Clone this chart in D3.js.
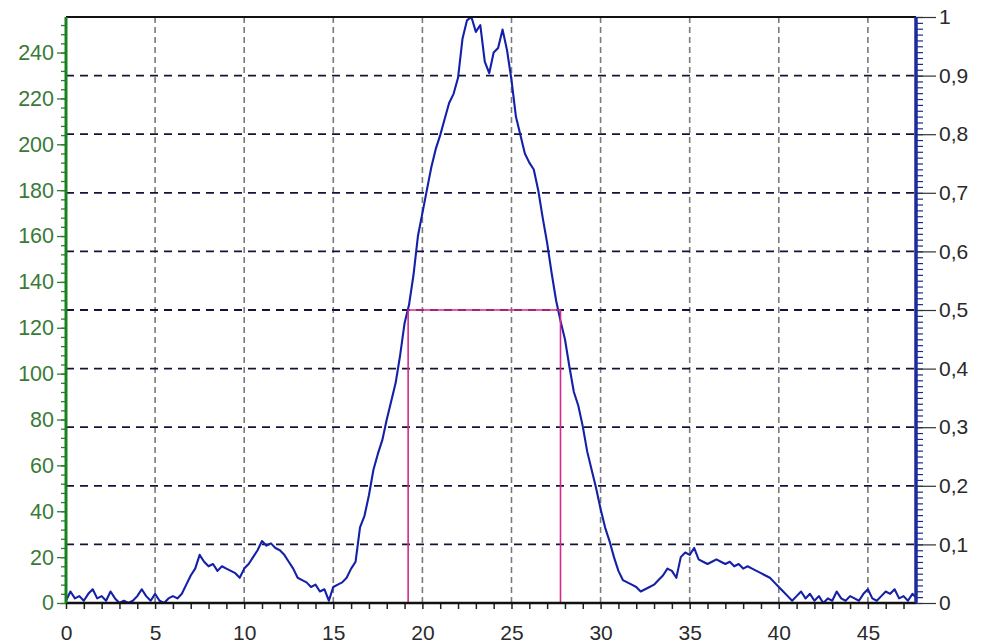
<!DOCTYPE html>
<html>
<head>
<meta charset="utf-8">
<script src="https://cdn.jsdelivr.net/npm/d3@7"></script>
<style>
  html, body { margin: 0; padding: 0; background: #fff; }
  #chart { width: 992px; height: 644px; }
  text { font-family: "Liberation Sans", Arial, sans-serif; }
</style>
</head>
<body>
<div id="chart"></div>
<script>
// intensity profile, one sample every 0.25 on the x axis
const sampleStep = 0.25;
const intensity = [
  1, 5, 2, 3, 1, 4, 6, 2, 3, 1, 5, 2, 0, 1, 0, 1,
  3, 6, 3, 1, 4, 1, 0, 2, 3, 2, 4, 8, 12, 15, 21, 18,
  16, 17, 14, 16, 15, 14, 13, 11, 15, 17, 20, 23, 27, 25, 26, 24,
  23, 21, 18, 15, 11, 10, 9, 7, 8, 5, 6, 1, 7, 8, 9, 11,
  15, 18, 33, 38, 47, 58, 65, 71, 80, 88, 96, 108, 122, 130, 143, 160,
  170, 180, 190, 198, 204, 211, 218, 222, 229, 246, 254, 256, 249, 252, 236, 231,
  240, 242, 250, 241, 228, 212, 204, 196, 192, 189, 180, 168, 157, 144, 132, 123,
  115, 103, 92, 86, 77, 66, 58, 50, 41, 33, 27, 20, 14, 10, 9, 8,
  7, 5, 6, 7, 8, 10, 12, 15, 14, 11, 20, 22, 21, 24, 19, 18,
  17, 18, 19, 18, 17, 18, 16, 17, 15, 16, 15, 14, 13, 12, 11, 9,
  7, 5, 3, 1, 3, 5, 2, 4, 1, 3, 0, 2, 1, 5, 2, 1,
  3, 2, 1, 4, 6, 2, 1, 3, 5, 4, 6, 2, 3, 1, 4, 2
];

// half-maximum marker (x from / to, level on the right scale)
const fwhmFrom = 19.2;
const fwhmTo = 27.75;
const fwhmLevel = 0.5;

const xTickLabels = [0, 5, 10, 15, 20, 25, 30, 35, 40, 45];
const leftTickLabels = [0, 20, 40, 60, 80, 100, 120, 140, 160, 180, 200, 220, 240];
const rightTickValues = [0, 0.1, 0.2, 0.3, 0.4, 0.5, 0.6, 0.7, 0.8, 0.9, 1];
const rightTickLabels = ["0", "0,1", "0,2", "0,3", "0,4", "0,5", "0,6", "0,7", "0,8", "0,9", "1"];

const xMax = 47.7;
const leftMax = 255.5;

class ProfileChart {
  constructor(id, values) {
    this.div = id;
    this.data = values.map((v, i) => ({ x: i * sampleStep, y: v }));
  }

  add_svg() {
    const div = d3.select(`#${this.div}`);
    div.selectAll("*").remove();
    this.width = 992;
    this.height = 644;
    this.margin = { left: 66, right: 76, top: 17, bottom: 41 };
    this.innerW = this.width - this.margin.left - this.margin.right;
    this.innerH = this.height - this.margin.top - this.margin.bottom;
    this.svg = div.append("svg")
      .attr("width", this.width)
      .attr("height", this.height);
    this.ChartArea = this.svg.append("g")
      .attr("transform", `translate(${this.margin.left},${this.margin.top})`);
    this.grid = this.ChartArea.append("g");
    this.draw_area = this.ChartArea.append("g");
    this.frame = this.ChartArea.append("g");
  }

  add_scale() {
    this.x = d3.scaleLinear().domain([0, xMax]).range([0, this.innerW]);
    this.yL = d3.scaleLinear().domain([0, leftMax]).range([this.innerH, 0]).clamp(true);
    this.yR = d3.scaleLinear().domain([0, 1]).range([this.innerH, 0]);
  }

  add_grid() {
    this.grid.selectAll(".vgrid").data(xTickLabels.filter(d => d > 0)).join("line")
      .attr("class", "vgrid")
      .attr("x1", d => this.x(d)).attr("x2", d => this.x(d))
      .attr("y1", 0).attr("y2", this.innerH)
      .attr("stroke", "#7a7a7a")
      .attr("stroke-width", 1.6)
      .attr("stroke-dasharray", "6,4");

    this.grid.selectAll(".hgrid").data(rightTickValues.filter(d => d > 0 && d < 1)).join("line")
      .attr("class", "hgrid")
      .attr("x1", 0).attr("x2", this.innerW)
      .attr("y1", d => this.yR(d)).attr("y2", d => this.yR(d))
      .attr("stroke", "#141438")
      .attr("stroke-width", 1.8)
      .attr("stroke-dasharray", "8,6");
  }

  add_axis() {
    const bottom = this.frame.append("g").attr("transform", `translate(0,${this.innerH})`);
    bottom.append("g")
      .call(d3.axisBottom(this.x).tickValues(d3.range(0, 48, 1)).tickSize(6).tickFormat(""))
      .call(g => g.select(".domain").remove())
      .call(g => g.selectAll("line").attr("stroke", "#222").attr("stroke-width", 1.5));
    bottom.append("g")
      .call(d3.axisBottom(this.x).tickValues(xTickLabels).tickSize(0).tickPadding(22))
      .call(g => g.select(".domain").remove())
      .call(g => g.selectAll("text").attr("font-size", 21).attr("fill", "#2a2a2a"));

    const left = this.frame.append("g");
    left.append("g")
      .call(d3.axisLeft(this.yL).tickValues(d3.range(0, 256, 4)).tickSize(5).tickFormat(""))
      .call(g => g.select(".domain").remove())
      .call(g => g.selectAll("line").attr("stroke", "#2d7d2d").attr("stroke-width", 1.3));
    left.append("g")
      .call(d3.axisLeft(this.yL).tickValues(leftTickLabels).tickSize(9).tickPadding(3))
      .call(g => g.select(".domain").remove())
      .call(g => g.selectAll("line").attr("stroke", "#2d7d2d").attr("stroke-width", 1.3))
      .call(g => g.selectAll("text").attr("font-size", 21.5).attr("fill", "#3a7a38"));

    const right = this.frame.append("g").attr("transform", `translate(${this.innerW},0)`);
    right.append("g")
      .call(d3.axisRight(this.yR).tickValues(d3.range(0, 101, 1).map(d => d / 100)).tickSize(7).tickFormat(""))
      .call(g => g.select(".domain").remove())
      .call(g => g.selectAll("line").attr("stroke", "#1c2a8c").attr("stroke-width", 1.2));
    right.append("g")
      .call(d3.axisRight(this.yR).tickValues(rightTickValues).tickSize(20).tickPadding(3)
        .tickFormat((d, i) => rightTickLabels[i]))
      .call(g => g.select(".domain").remove())
      .call(g => g.selectAll("line").attr("stroke", "#333").attr("stroke-width", 1.2))
      .call(g => g.selectAll("text").attr("font-size", 21).attr("fill", "#2a2a2a"));

    // frame lines: top black, left green, right blue, bottom black
    this.frame.append("line")
      .attr("x1", 0).attr("x2", this.innerW).attr("y1", 0).attr("y2", 0)
      .attr("stroke", "#111").attr("stroke-width", 2);
    this.frame.append("line")
      .attr("x1", 0).attr("x2", this.innerW).attr("y1", this.innerH).attr("y2", this.innerH)
      .attr("stroke", "#111").attr("stroke-width", 2.5);
    this.frame.append("line")
      .attr("x1", 0).attr("x2", 0).attr("y1", 0).attr("y2", this.innerH)
      .attr("stroke", "#17801f").attr("stroke-width", 3);
    this.frame.append("line")
      .attr("x1", this.innerW).attr("x2", this.innerW).attr("y1", 0).attr("y2", this.innerH)
      .attr("stroke", "#1c2a9c").attr("stroke-width", 3.5);
  }

  draw_chart() {
    const line = d3.line()
      .x(d => this.x(d.x))
      .y(d => this.yL(d.y));
    this.draw_area.append("path")
      .datum(this.data)
      .attr("fill", "none")
      .attr("stroke", "#1420a8")
      .attr("stroke-width", 2.1)
      .attr("stroke-linejoin", "round")
      .attr("d", line);

    const fwhm = [
      { x: fwhmFrom, y: 0 }, { x: fwhmFrom, y: fwhmLevel },
      { x: fwhmTo, y: fwhmLevel }, { x: fwhmTo, y: 0 }
    ];
    this.draw_area.append("path")
      .datum(fwhm)
      .attr("fill", "none")
      .attr("stroke", "#d42a8c")
      .attr("stroke-width", 1.6)
      .attr("d", d3.line().x(d => this.x(d.x)).y(d => this.yR(d.y)));
  }

  update_chart() {
    this.add_svg();
    this.add_scale();
    this.add_grid();
    this.draw_chart();
    this.add_axis();
  }
}

new ProfileChart("chart", intensity).update_chart();
</script>
</body>
</html>
